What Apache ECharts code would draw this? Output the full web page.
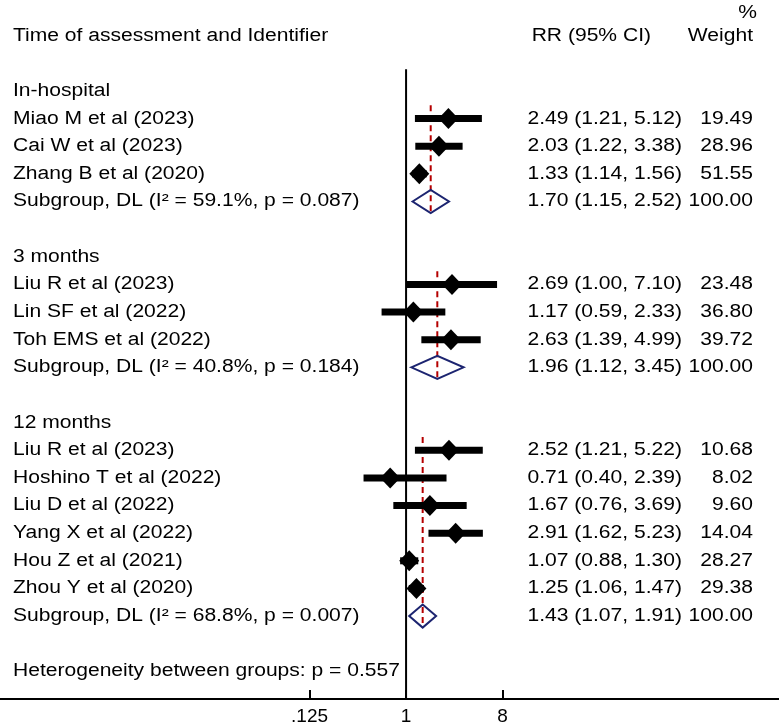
<!DOCTYPE html>
<html>
<head>
<meta charset="utf-8">
<script src="https://cdn.jsdelivr.net/npm/echarts@6/dist/echarts.min.js"></script>
<style>
  html, body { margin: 0; padding: 0; background: #fff; }
  #box { width: 779px; height: 726px; }
</style>
</head>
<body>
<div id="box"></div>
<script>
// ---- data ----
var groupNames = ['In-hospital', '3 months', '12 months'];

var studyNames = [
  'Miao M et al (2023)', 'Cai W et al (2023)', 'Zhang B et al (2020)',
  'Liu R et al (2023)', 'Lin SF et al (2022)', 'Toh EMS et al (2022)',
  'Liu R et al (2023)', 'Hoshino T et al (2022)', 'Liu D et al (2022)',
  'Yang X et al (2022)', 'Hou Z et al (2021)', 'Zhou Y et al (2020)'
];
var studyGroup = [0, 0, 0, 1, 1, 1, 2, 2, 2, 2, 2, 2];
var studyRR = [2.49, 2.03, 1.33, 2.69, 1.17, 2.63, 2.52, 0.71, 1.67, 2.91, 1.07, 1.25];
var studyLo = [1.21, 1.22, 1.14, 1.00, 0.59, 1.39, 1.21, 0.40, 0.76, 1.62, 0.88, 1.06];
var studyHi = [5.12, 3.38, 1.56, 7.10, 2.33, 4.99, 5.22, 2.39, 3.69, 5.23, 1.30, 1.47];
var studyWeight = [19.49, 28.96, 51.55, 23.48, 36.80, 39.72, 10.68, 8.02, 9.60, 14.04, 28.27, 29.38];

var poolRR = [1.70, 1.96, 1.43];
var poolLo = [1.15, 1.12, 1.07];
var poolHi = [2.52, 3.45, 1.91];
var poolI2 = ['59.1', '40.8', '68.8'];
var poolP = ['0.087', '0.184', '0.007'];
var hetP = '0.557';

var tickValues = [0.125, 1, 8];
var tickLabels = ['.125', '1', '8'];

// ---- helpers ----
var FONT = '18px "Liberation Sans", Arial, sans-serif';
var SX = 1.17; // reference text is a bit wide
function log2(v) { return Math.log(v) / Math.LN2; }
function fmtCI(rr, lo, hi) {
  return rr.toFixed(2) + ' (' + lo.toFixed(2) + ', ' + hi.toFixed(2) + ')';
}
function txt(x, y, s, align) {
  return {
    type: 'text', x: x, y: y, scaleX: SX,
    style: { text: s, font: FONT, fill: '#000', align: align, verticalAlign: 'middle' }
  };
}

// ---- build rows ----
var textRows = [[-2, 'Time of assessment and Identifier', '', 'Weight']];
var studyData = [];
var poolData = [];
var row = 0;
groupNames.forEach(function (g, gi) {
  textRows.push([row, g, '', '']);
  var first = row + 1;
  row++;
  for (var i = 0; i < studyNames.length; i++) {
    if (studyGroup[i] !== gi) continue;
    textRows.push([row, studyNames[i], fmtCI(studyRR[i], studyLo[i], studyHi[i]), studyWeight[i].toFixed(2)]);
    studyData.push([log2(studyLo[i]), log2(studyHi[i]), log2(studyRR[i]), row]);
    row++;
  }
  textRows.push([row, 'Subgroup, DL (I\u00b2 = ' + poolI2[gi] + '%, p = ' + poolP[gi] + ')',
    fmtCI(poolRR[gi], poolLo[gi], poolHi[gi]), '100.00']);
  poolData.push([log2(poolLo[gi]), log2(poolHi[gi]), log2(poolRR[gi]), first, row]);
  row += 2;
});
textRows.push([row, 'Heterogeneity between groups: p = ' + hetP, '', '']);
var lastRow = row + 1; // x axis sits here

var myChart = echarts.init(document.getElementById('box'));

var option = {
  animation: false,
  grid: { left: 0, right: 0, top: 8, bottom: 25 },
  xAxis: {
    type: 'value',
    min: -12.62,
    max: 11.59,
    splitLine: { show: false },
    axisLine: { onZero: false, lineStyle: { color: '#000', width: 2 } },
    axisTick: {
      inside: true, length: 9,
      customValues: tickValues.map(log2),
      lineStyle: { color: '#000', width: 2 }
    },
    axisLabel: {
      customValues: tickValues.map(log2),
      color: '#000', fontSize: 19, fontFamily: 'Liberation Sans', margin: 8,
      formatter: function (v) {
        for (var i = 0; i < tickValues.length; i++) {
          if (Math.abs(log2(tickValues[i]) - v) < 1e-6) return tickLabels[i];
        }
        return '';
      }
    }
  },
  yAxis: { type: 'value', min: -3, max: lastRow, inverse: true, show: false },
  series: [
    { // null line at RR = 1
      type: 'custom',
      data: [[0, -0.78, lastRow]],
      renderItem: function (params, api) {
        var a = api.coord([api.value(0), api.value(1)]);
        var b = api.coord([api.value(0), api.value(2)]);
        return { type: 'line', shape: { x1: a[0], y1: a[1], x2: b[0], y2: b[1] },
          style: { stroke: '#000', lineWidth: 2 } };
      }
    },
    { // pooled diamonds + dashed estimate lines
      type: 'custom',
      data: poolData,
      renderItem: function (params, api) {
        var y = api.value(4);
        var lo = api.coord([api.value(0), y]);
        var hi = api.coord([api.value(1), y]);
        var c = api.coord([api.value(2), y]);
        var top = api.coord([api.value(2), api.value(3) - 0.48]);
        var bot = api.coord([api.value(2), y + 0.42]);
        return {
          type: 'group',
          children: [
            { type: 'line', shape: { x1: top[0], y1: top[1], x2: bot[0], y2: bot[1] },
              style: { stroke: '#b50000', lineWidth: 2, lineDash: [6, 4] } },
            { type: 'polygon',
              shape: { points: [[lo[0], c[1]], [c[0], c[1] - 11.5], [hi[0], c[1]], [c[0], c[1] + 11.5]] },
              style: { fill: 'none', stroke: '#1c2470', lineWidth: 2 } }
          ]
        };
      }
    },
    { // study CIs and point estimates
      type: 'custom',
      data: studyData,
      renderItem: function (params, api) {
        var y = api.value(3);
        var lo = api.coord([api.value(0), y]);
        var hi = api.coord([api.value(1), y]);
        var c = api.coord([api.value(2), y]);
        return {
          type: 'group',
          children: [
            { type: 'line', shape: { x1: lo[0], y1: lo[1], x2: hi[0], y2: hi[1] },
              style: { stroke: '#000', lineWidth: 7 } },
            { type: 'polygon',
              shape: { points: [[c[0] - 10, c[1]], [c[0], c[1] - 10.5], [c[0] + 10, c[1]], [c[0], c[1] + 10.5]] },
              style: { fill: '#000' } }
          ]
        };
      }
    },
    { // text columns
      type: 'custom',
      data: textRows.map(function (r) { return [0, r[0]]; }),
      renderItem: function (params, api) {
        var r = textRows[params.dataIndex];
        var y = api.coord([0, r[0]])[1];
        var kids = [txt(13, y, r[1], 'left')];
        if (r[2]) kids.push(txt(682, y, r[2], 'right'));
        if (r[3]) kids.push(txt(753, y, r[3], 'right'));
        if (r[0] === -2) {
          kids.push(txt(651, y, 'RR (95% CI)', 'right'));
          kids.push(txt(757, api.coord([0, -2.8])[1], '%', 'right'));
        }
        return { type: 'group', children: kids };
      }
    }
  ]
};

myChart.setOption(option);
</script>
</body>
</html>
